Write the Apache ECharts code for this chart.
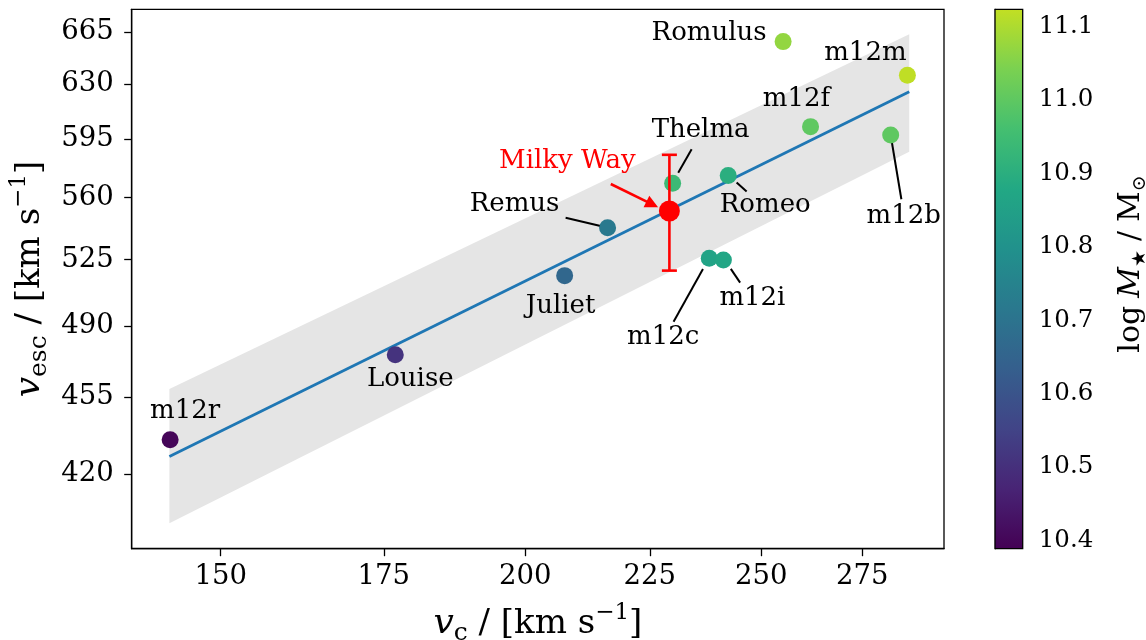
<!DOCTYPE html>
<html><head><meta charset="utf-8">
<script src="https://cdn.jsdelivr.net/npm/echarts@6/dist/echarts.min.js"></script>
<style>html,body{margin:0;padding:0;background:#fff}#c{width:1146px;height:640px}</style>
</head><body><div id="c"></div>
<script>
// ---------------- data ----------------
const names    = ['m12r','Louise','Juliet','Remus','Thelma','Romeo','m12c','m12i','Romulus','m12m','m12f','m12b'];
const vc       = [143.0, 176.9, 207.6, 216.2, 229.9, 242.3, 238.0, 241.2, 255.2, 287.0, 261.9, 282.5];
const vesc     = [435.3, 475.5, 516.3, 542.7, 568.3, 572.9, 525.7, 524.8, 658.5, 635.9, 602.8, 597.6];
const logMstar = [10.40, 10.51, 10.66, 10.72, 10.94, 10.90, 10.86, 10.87, 11.07, 11.12, 11.00, 11.00];
const mwName = ['Milky Way'];
const mwVc = [229.2];
const mwVesc = [552.2];
const mwErr = [33.2];
const fitVc = [142.9, 287.5];
const fitVesc = [427.8, 625.1];
const bandVc = [142.9, 287.5];
const bandLow = [399.1, 587.3];
const bandHigh = [458.9, 663.6];
const xTicks = [150, 175, 200, 225, 250, 275];
const yTicks = [420, 455, 490, 525, 560, 595, 630, 665];
const cbTicks = [10.4, 10.5, 10.6, 10.7, 10.8, 10.9, 11.0, 11.1];
const xRange = [137.9, 297.1];
const yRange = [388.7, 681.0];
const cbRange = [10.389, 11.123];

// ---------------- style / layout ----------------
const FONT = 'DejaVu Serif';
const viridis = ['#440154','#482475','#414487','#355f8d','#2a788e','#21918c','#22a884','#44bf70','#7ad151','#c2df23'];
// label offsets (px) relative to point, and leader line [start, end] offsets
const labelLayout = {
  'm12r':   {off:[15,-29]},
  'Louise': {off:[15,24]},
  'Juliet': {off:[-4,31]},
  'Remus':  {off:[-93,-23], line:[[-42,-10],[-6,-1.5]]},
  'Thelma': {off:[28,-53],  line:[[19,-34],[5.6,-10.6]]},
  'Romeo':  {off:[37,30],   line:[[18.4,16],[8.4,7]]},
  'm12c':   {off:[-46,79],  line:[[-35.7,63.4],[-6.3,10.7]]},
  'm12i':   {off:[29,38],   line:[[16.7,22.7],[7.4,9]]},
  'Romulus':{off:[-74,-8]},
  'm12m':   {off:[-42,-22]},
  'm12f':   {off:[-14,-27]},
  'm12b':   {off:[13,81],   line:[[10.7,64.3],[0.7,4.3]]}
};
const mwLayout = {off:[-102,-50], arrow:[[-58.6,-27],[-11.3,-3.7]]};

const chart = echarts.init(document.getElementById('c'), null, {renderer:'canvas'});

const scatterData = names.map((n,i)=>({
  value:[vc[i], vesc[i], logMstar[i]],
  name:n,
  label:{offset: labelLayout[n].off}
}));

const axisCommon = {
  axisLine:{show:true, lineStyle:{color:'#000', width:1.3}},
  axisTick:{show:true, inside:false, length:7.5, lineStyle:{color:'#000', width:1.3}},
  splitLine:{show:false},
  minorTick:{show:false},
  axisLabel:{color:'#000', fontFamily:FONT, fontSize:27.5}
};
const titleRich = {
  i:{fontFamily:FONT, fontStyle:'italic', fontSize:36, lineHeight:44, color:'#000'},
  sub:{fontFamily:FONT, fontSize:25, lineHeight:29, verticalAlign:'bottom', color:'#000'},
  n:{fontFamily:FONT, fontSize:34, lineHeight:44, color:'#000'},
  sup:{fontFamily:FONT, fontSize:23, lineHeight:25, verticalAlign:'top', color:'#000'}
};

const option = {
  animation:false,
  backgroundColor:'#fff',
  grid:[
    {left:131.7, right:202, top:9.3, bottom:91.3, show:true, borderColor:'#000', borderWidth:1.3, backgroundColor:'transparent', outerBoundsMode:'none', containLabel:false},
    {left:995, right:123.3, top:9.3, bottom:91.3, show:true, borderColor:'#000', borderWidth:1.3, backgroundColor:'transparent', outerBoundsMode:'none', containLabel:false, z:5}
  ],
  xAxis:[
    Object.assign({}, axisCommon, {
      gridIndex:0, type:'log', logBase:Math.E, min:xRange[0], max:xRange[1],
      axisTick:Object.assign({}, axisCommon.axisTick, {customValues:xTicks}),
      axisLabel:Object.assign({}, axisCommon.axisLabel, {customValues:xTicks, margin:14, formatter:v=>String(Math.round(v))}),
      name:'{i|v}{sub|c}{n| / [km s}{sup|−1}{n|]}',
      nameLocation:'middle', nameGap:53, nameMoveOverlap:false,
      nameTextStyle:{fontFamily:FONT, color:'#000', fontSize:34, verticalAlign:'top', rich:titleRich}
    }),
    {gridIndex:1, type:'value', min:0, max:1, show:false}
  ],
  yAxis:[
    Object.assign({}, axisCommon, {
      gridIndex:0, type:'log', logBase:Math.E, min:yRange[0], max:yRange[1],
      axisTick:Object.assign({}, axisCommon.axisTick, {customValues:yTicks}),
      axisLabel:Object.assign({}, axisCommon.axisLabel, {customValues:yTicks, margin:18, formatter:v=>String(Math.round(v))}),
      name:'{i|v}{sub|esc}{n| / [km s}{sup|−1}{n|]}',
      nameLocation:'middle', nameGap:80, nameRotate:90, nameMoveOverlap:false,
      nameTextStyle:{fontFamily:FONT, color:'#000', fontSize:34, rich:titleRich}
    }),
    Object.assign({}, axisCommon, {
      gridIndex:1, type:'value', position:'right', min:cbRange[0], max:cbRange[1],
      axisTick:Object.assign({}, axisCommon.axisTick, {customValues:cbTicks, length:8}),
      axisLabel:Object.assign({}, axisCommon.axisLabel, {customValues:cbTicks, margin:16, fontSize:24.5, formatter:v=>v.toFixed(1)}),
      name:'{n|log}{g|M}{s|★}{sl|/}{n|M}{s|⊙}',
      nameLocation:'middle', nameGap:91, nameRotate:90, nameMoveOverlap:false,
      nameTextStyle:{fontFamily:FONT, color:'#000', fontSize:30, padding:[0,0,0,30],
        rich:{
          n:{fontFamily:FONT, fontSize:30, lineHeight:36, color:'#000'},
          g:{fontFamily:FONT, fontStyle:'italic', fontSize:30, lineHeight:36, color:'#000', padding:[0,0,0,8]},
          sl:{fontFamily:FONT, fontSize:30, lineHeight:36, color:'#000', padding:[0,9,0,9]},
          s:{fontFamily:FONT, fontSize:19, lineHeight:22, verticalAlign:'bottom', color:'#000'}
        }}
    })
  ],
  visualMap:[{
    show:false, type:'continuous', min:cbRange[0], max:cbRange[1], dimension:2,
    seriesIndex:1, inRange:{color:viridis}
  }],
  series:[
    // 0: scatter band
    {
      type:'custom', xAxisIndex:0, yAxisIndex:0, z:1, silent:true,
      data:[[bandVc[0], bandLow[0]]],
      renderItem:(params, api)=>{
        const pts = [
          api.coord([bandVc[0], bandLow[0]]),
          api.coord([bandVc[1], bandLow[1]]),
          api.coord([bandVc[1], bandHigh[1]]),
          api.coord([bandVc[0], bandHigh[0]])
        ];
        return {type:'polygon', shape:{points:pts}, style:{fill:'#e5e5e5', stroke:null}};
      }
    },
    // 1: simulations
    {
      type:'scatter', xAxisIndex:0, yAxisIndex:0, z:4, symbol:'circle', symbolSize:17,
      data:scatterData,
      label:{show:true, position:'inside', formatter:p=>p.name, color:'#000', fontFamily:FONT, fontSize:26},
      itemStyle:{opacity:1}
    },
    // 2: fit line
    {
      type:'line', xAxisIndex:0, yAxisIndex:0, z:3, symbol:'none',
      data:fitVc.map((x,i)=>[x, fitVesc[i]]),
      lineStyle:{color:'#1f77b4', width:2.8}
    },
    // 3: leader lines
    {
      type:'custom', xAxisIndex:0, yAxisIndex:0, z:3, silent:true,
      data:names.map((n,i)=>[vc[i], vesc[i], i]).filter(d=>labelLayout[names[d[2]]].line),
      renderItem:(params, api)=>{
        const c = api.coord([api.value(0), api.value(1)]);
        const L = labelLayout[names[api.value(2)]].line;
        return {type:'line', shape:{x1:c[0]+L[0][0], y1:c[1]+L[0][1], x2:c[0]+L[1][0], y2:c[1]+L[1][1]},
          style:{stroke:'#000', lineWidth:2}};
      }
    },
    // 4: Milky Way error bar + arrow
    {
      type:'custom', xAxisIndex:0, yAxisIndex:0, z:5, silent:true,
      data:mwVc.map((x,i)=>[x, mwVesc[i], mwErr[i]]),
      renderItem:(params, api)=>{
        const x = api.value(0), y = api.value(1), e = api.value(2);
        const top = api.coord([x, y+e]), bot = api.coord([x, y-e]), c = api.coord([x,y]);
        const cap = 7.5;
        const a0 = [c[0]+mwLayout.arrow[0][0], c[1]+mwLayout.arrow[0][1]];
        const a1 = [c[0]+mwLayout.arrow[1][0], c[1]+mwLayout.arrow[1][1]];
        const dx = a1[0]-a0[0], dy = a1[1]-a0[1], len = Math.hypot(dx,dy);
        const ux = dx/len, uy = dy/len, hl = 13, hw = 6.5;
        const base = [a1[0]-ux*hl, a1[1]-uy*hl];
        const st = {stroke:'#ff0000', lineWidth:2.6};
        return {type:'group', children:[
          {type:'line', shape:{x1:top[0], y1:top[1], x2:bot[0], y2:bot[1]}, style:st},
          {type:'line', shape:{x1:top[0]-cap, y1:top[1], x2:top[0]+cap, y2:top[1]}, style:st},
          {type:'line', shape:{x1:bot[0]-cap, y1:bot[1], x2:bot[0]+cap, y2:bot[1]}, style:st},
          {type:'line', shape:{x1:a0[0], y1:a0[1], x2:base[0]+ux*2, y2:base[1]+uy*2}, style:st},
          {type:'polygon', shape:{points:[a1, [base[0]-uy*hw, base[1]+ux*hw], [base[0]+uy*hw, base[1]-ux*hw]]}, style:{fill:'#ff0000'}}
        ]};
      }
    },
    // 5: Milky Way point
    {
      type:'scatter', xAxisIndex:0, yAxisIndex:0, z:6, symbol:'circle', symbolSize:21,
      data:mwVc.map((x,i)=>({value:[x, mwVesc[i]], name:mwName[i], label:{offset:mwLayout.off}})),
      itemStyle:{color:'#ff0000', opacity:1},
      label:{show:true, position:'inside', formatter:p=>p.name, color:'#ff0000', fontFamily:FONT, fontSize:26}
    },
    // 6: colorbar
    {
      type:'custom', xAxisIndex:1, yAxisIndex:1, z:2, silent:true,
      data:[[0, cbRange[0]]],
      renderItem:(params, api)=>{
        const p0 = api.coord([0, cbRange[1]]), p1 = api.coord([1, cbRange[0]]);
        return {type:'rect', shape:{x:p0[0], y:p0[1], width:p1[0]-p0[0], height:p1[1]-p0[1]},
          style:{fill:new echarts.graphic.LinearGradient(0,1,0,0, viridis.map((c,i)=>({offset:i/(viridis.length-1), color:c})))}};
      }
    }
  ]
};
chart.setOption(option);
</script>
</body></html>
